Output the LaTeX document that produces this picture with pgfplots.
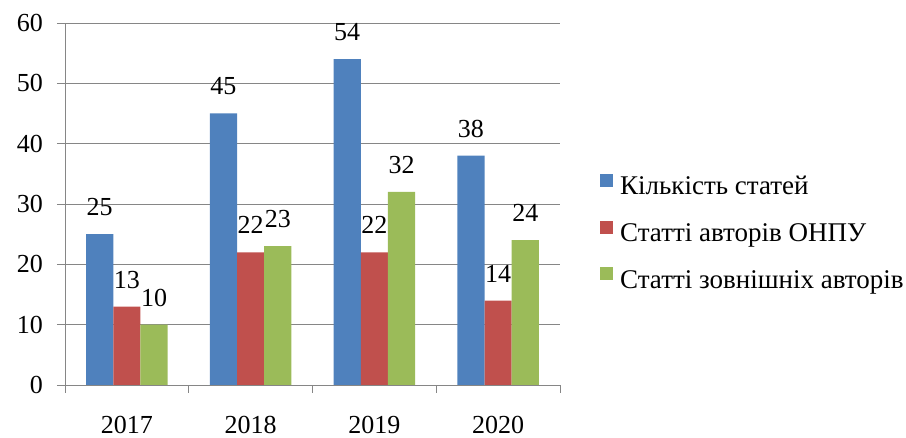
\documentclass[border=0pt]{standalone}
\usepackage{fontspec}
\setmainfont{Liberation Serif}
\newfontfamily\chartserif{Liberation Serif}
\usepackage{pgfplots}
\pgfplotsset{compat=1.18}
\definecolor{sblue}{HTML}{4F81BD}
\definecolor{sred}{HTML}{C0504D}
\definecolor{sgreen}{HTML}{9BBB59}
\definecolor{gridgray}{HTML}{868686}
\newcommand{\chartfont}{\chartserif\fontsize{26}{31}\selectfont}
\newcommand{\legfont}{\chartserif\fontsize{27}{32}\selectfont}
\begin{document}
\begin{tikzpicture}
\path[use as bounding box] (0pt,0pt) rectangle (906pt,438pt);
\begin{axis}[
  at={(65pt,53pt)}, anchor=south west,
  scale only axis, width=495pt, height=362pt,
  xmin=-0.5, xmax=3.5, ymin=0, ymax=60,
  ytick={0,10,...,60},
  xtick={-0.5,0.5,1.5,2.5,3.5}, xticklabels={},
  extra x ticks={0,1,2,3},
  extra x tick labels={2017,2018,2019,2020},
  extra x tick style={major tick length=0pt, xticklabel style={anchor=base, yshift=-49pt}},
  axis x line*=bottom, axis y line*=left,
  ymajorgrids,
  major grid style={gridgray, line width=0.8pt},
  axis line style={gridgray, line width=0.8pt},
  tick style={gridgray, line width=0.8pt},
  tick align=outside, major tick length=8pt,
  ybar=0pt, bar width=0.22,
  /pgf/number format/assume math mode=true,
  ticklabel style={font=\chartfont, text=black},
  yticklabel style={anchor=east, inner sep=0pt, xshift=-14pt},
  nodes near coords,
  nodes near coords style={font=\chartfont, text=black, anchor=base, yshift=18.5pt, inner sep=0pt},
  legend style={at={(rel axis cs:1.0808,0.417)}, anchor=west, draw=none, fill=none,
    inner sep=0pt, column sep=7pt, row sep=20pt,
    nodes={inner sep=0pt, font=\legfont, text height=18pt, text depth=6pt}},
  legend cell align=left,
]
\addplot[fill=sblue, draw=none, legend image code/.code={\fill[sblue] (0pt,1.8pt) rectangle (13pt,14.8pt);}]
  coordinates {(0,25) (1,45) (2,54) (3,38)};
\addplot[fill=sred, draw=none, legend image code/.code={\fill[sred] (0pt,1.8pt) rectangle (13pt,14.8pt);}]
  coordinates {(0,13) (1,22) (2,22) (3,14)};
\addplot[fill=sgreen, draw=none, legend image code/.code={\fill[sgreen] (0pt,1.8pt) rectangle (13pt,14.8pt);}]
  coordinates {(0,10) (1,23) (2,32) (3,24)};
\legend{Кількість статей, Статті авторів ОНПУ, Статті зовнішніх авторів}
\end{axis}
\end{tikzpicture}
\end{document}
